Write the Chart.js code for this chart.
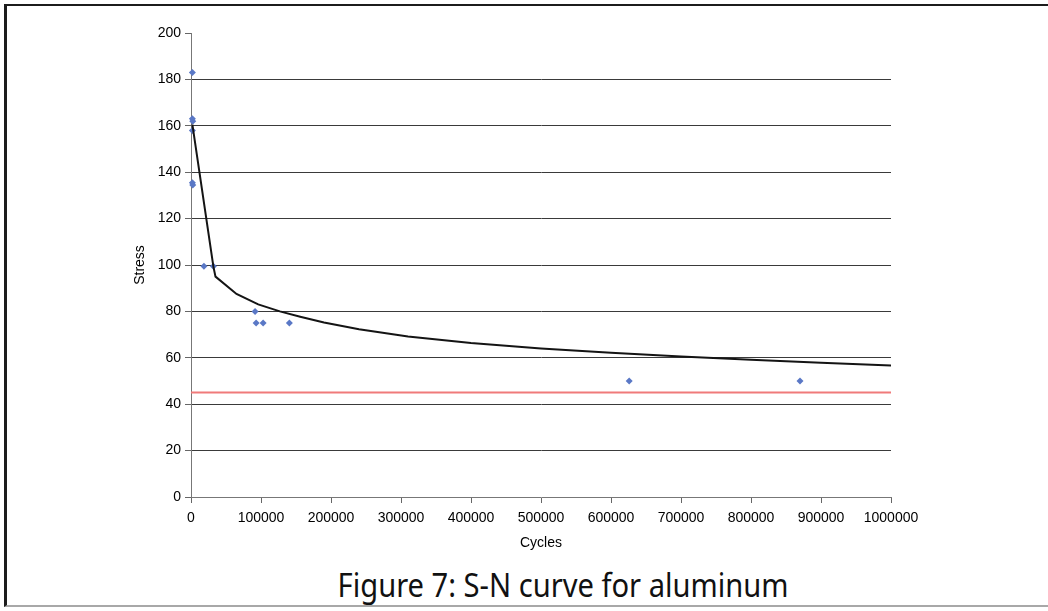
<!DOCTYPE html>
<html>
<head>
<meta charset="utf-8">
<title>S-N curve for aluminum</title>
<script src="https://cdn.jsdelivr.net/npm/chart.js@4/dist/chart.umd.min.js"></script>
<style>
  html, body { margin: 0; padding: 0; background: #fff; }
  body { width: 1048px; height: 611px; position: relative; overflow: hidden; }
  #frame {
    position: absolute; left: 4px; top: 4px; width: 1044px; height: 603px;
    border-left: 3px solid #1c1c1c; border-top: 2px solid #1c1c1c;
    border-bottom: 2px solid #a8a8a8; box-sizing: border-box;
  }
  #wrap { position: absolute; left: 0; top: 0; width: 1048px; height: 560px; }
  #caption {
    position: absolute; right: 260px; top: 569px; line-height: 32px;
    font-family: "Noto Sans", sans-serif; font-size: 32px; color: #111;
    white-space: nowrap; text-align: right;
    transform: scaleX(0.91); transform-origin: right center;
  }
</style>
</head>
<body>
<div id="frame"></div>
<div id="wrap"><canvas id="snChart"></canvas></div>
<div id="caption">Figure 7: S-N curve for aluminum</div>
<script>
'use strict';

// measured test points (cycles, stress)
const testCycles = [2000, 2000, 2500, 2000, 2000, 2500, 18500, 32000, 91500, 93000, 103000, 140500, 626000, 870000];
const testStress = [183, 163, 162, 158, 135.5, 134.5, 99.5, 99.5, 80, 75, 75, 75, 50, 50];

// fitted S-N curve
const curveCycles = [2000, 32000, 35000, 65000, 96000, 127000, 156000, 190000, 240000, 310000, 400000, 500000, 600000, 700000, 800000, 900000, 1000000];
const curveStress = [160.5, 99.3, 95, 87.5, 83, 80, 77.7, 75.2, 72.3, 69.2, 66.4, 64, 62.2, 60.6, 59.2, 57.9, 56.7];

// endurance limit
const limitCycles = [0, 1000000];
const limitStress = [45, 45];

const yTicks = [0, 20, 40, 60, 80, 100, 120, 140, 160, 180, 200];

function toPoints(xs, ys) {
  let pts = [];
  for (let i = 0; i < xs.length; i++) {
    pts.push({ x: xs[i], y: ys[i] });
  }
  return pts;
}

const axisFont = { family: '"Liberation Sans", Arial, sans-serif', size: 14 };

const ctx = document.getElementById('snChart').getContext('2d');

const snChart = new Chart(ctx, {
  type: 'scatter',
  data: {
    datasets: [
      {
        label: 'Fit',
        data: toPoints(curveCycles, curveStress),
        showLine: true,
        borderColor: '#141414',
        borderWidth: 2,
        pointRadius: 0,
        tension: 0
      },
      {
        label: 'Endurance limit',
        data: toPoints(limitCycles, limitStress),
        showLine: true,
        borderColor: '#f07a7a',
        borderWidth: 2,
        pointRadius: 0
      },
      {
        label: 'Tests',
        data: toPoints(testCycles, testStress),
        pointStyle: 'rectRot',
        pointRadius: 3.5,
        borderWidth: 0,
        backgroundColor: '#5a78c6',
        clip: false
      }
    ]
  },
  options: {
    responsive: true,
    maintainAspectRatio: false,
    animation: false,
    layout: { padding: { top: 33, left: 125, right: 157, bottom: 0 } },
    plugins: {
      legend: { display: false },
      tooltip: { enabled: false }
    },
    scales: {
      x: {
        type: 'linear',
        min: 0,
        max: 1000000,
        afterFit: function (scale) { scale.height = 63; },
        ticks: {
          stepSize: 100000,
          color: '#000',
          font: axisFont,
          padding: 7,
          maxRotation: 0,
          callback: function (v) { return String(v); }
        },
        grid: { drawOnChartArea: false, drawTicks: true, tickLength: 6, color: '#666' },
        border: { display: true, color: '#777', width: 1 },
        title: {
          display: true,
          text: 'Cycles',
          color: '#000',
          font: axisFont,
          padding: { top: 0, bottom: 8 }
        }
      },
      y: {
        min: 0,
        max: 200,
        afterFit: function (scale) { scale.width = 66; },
        afterBuildTicks: function (scale) {
          scale.ticks = yTicks.map(function (v) { return { value: v }; });
        },
        ticks: { color: '#000', font: axisFont, padding: 4 },
        grid: {
          drawTicks: true,
          tickLength: 6,
          tickColor: '#666',
          lineWidth: 1,
          color: function (c) {
            if (c.tick && (c.tick.value === 200 || c.tick.value === 0)) return 'rgba(0,0,0,0)';
            return '#3a3a3a';
          }
        },
        border: { display: true, color: '#777', width: 1 },
        title: {
          display: true,
          text: 'Stress',
          color: '#000',
          font: axisFont,
          padding: { top: 7, bottom: 0 }
        }
      }
    }
  }
});
</script>
</body>
</html>
